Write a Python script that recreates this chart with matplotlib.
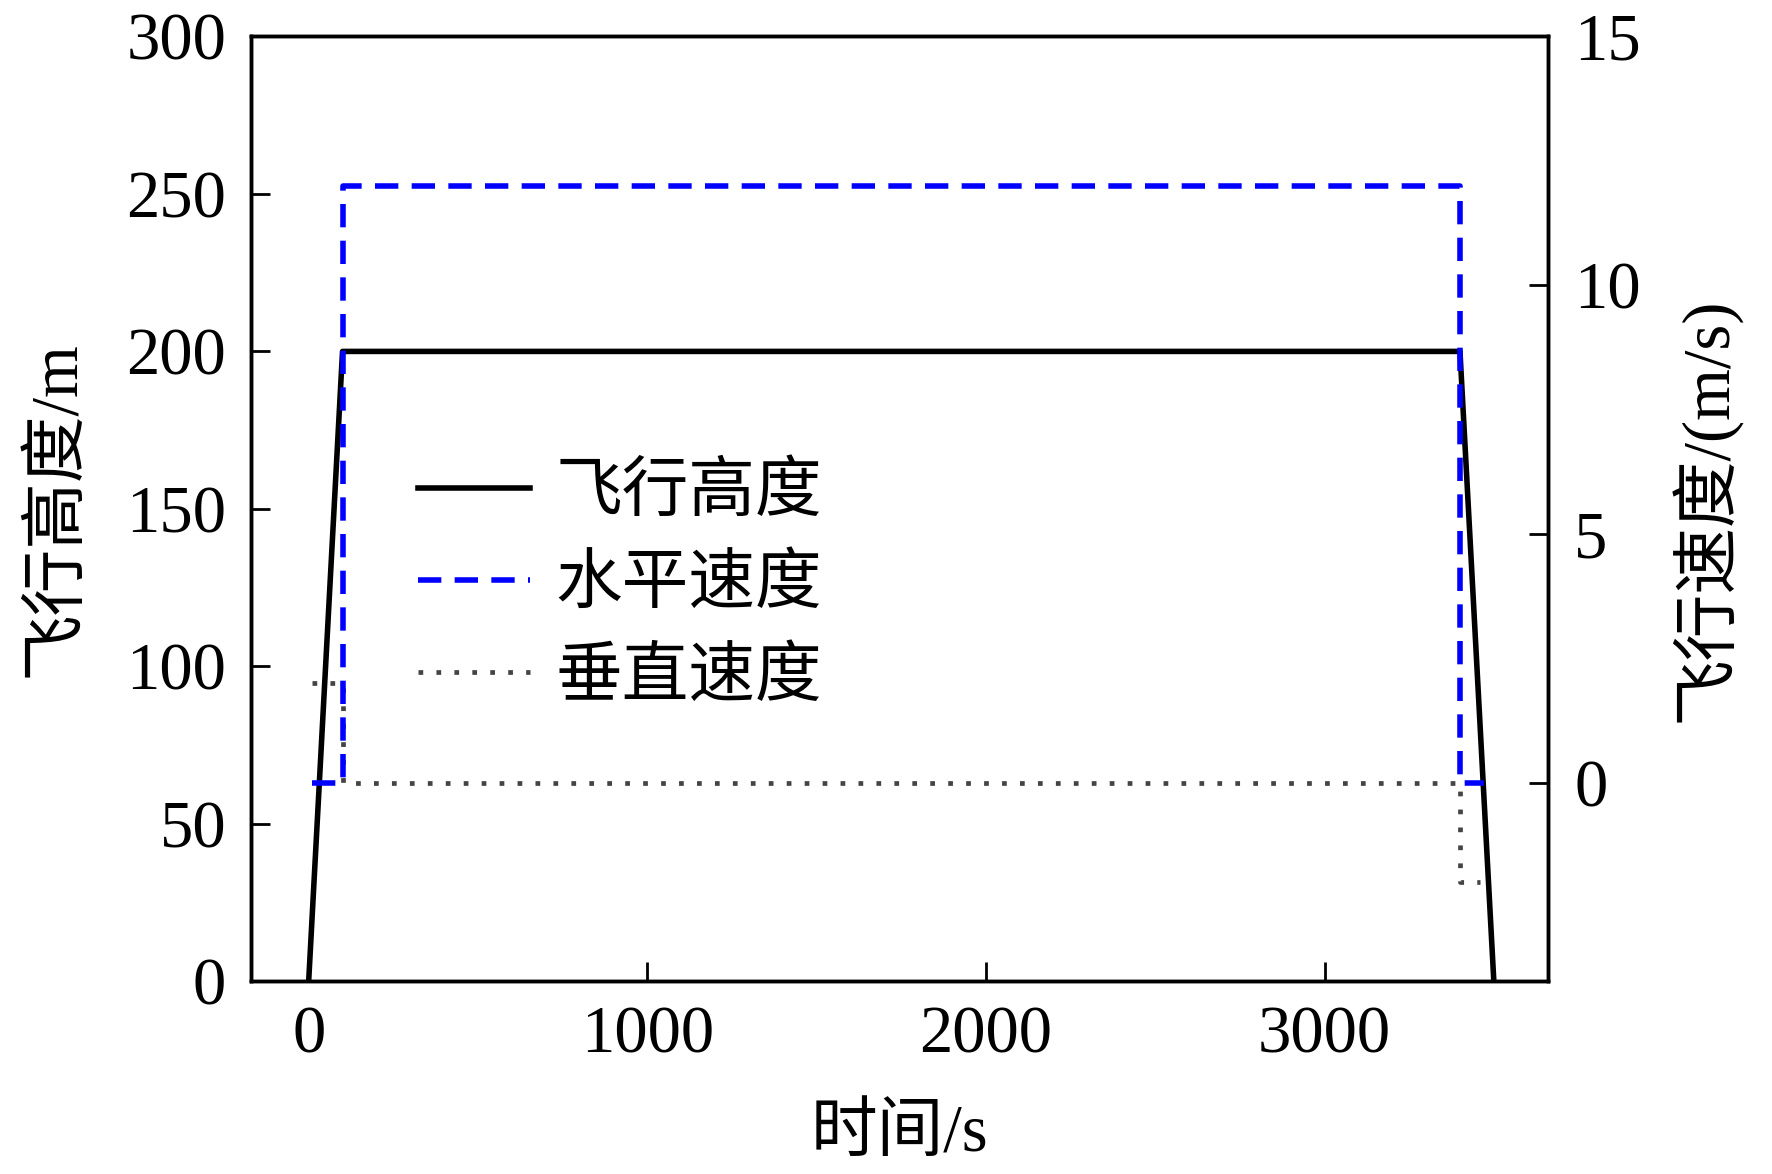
import matplotlib
matplotlib.use("Agg")
import matplotlib.pyplot as plt

# Data
t_alt = [0, 100, 3400, 3500]
altitude = [0, 200, 200, 0]

t_hs = [10, 100, 100, 3400, 3400, 3470]
h_speed = [0, 0, 12, 12, 0, 0]

t_vs = [10, 100, 100, 3400, 3400, 3460]
v_speed = [2, 2, 0, 0, -2, -2]

x_ticks = [0, 1000, 2000, 3000]
yl_ticks = [0, 50, 100, 150, 200, 250, 300]
yr_ticks = [0, 5, 10, 15]

labels = ["飞行高度", "水平速度", "垂直速度"]

plt.rcParams['font.family'] = ['Liberation Serif', 'Noto Sans CJK SC', 'DejaVu Sans']
plt.rcParams['axes.unicode_minus'] = False

fig = plt.figure(figsize=(17.72, 11.74), dpi=100)
ax = fig.add_axes([0.1417, 0.164, 0.8736 - 0.1417, 0.969 - 0.164])
ax2 = ax.twinx()

fs = 48
l1, = ax.plot(t_alt, altitude, color='black', lw=4.0, label=labels[0], zorder=3)
l2, = ax2.plot(t_hs, h_speed, color='#0000FF', lw=4.0, dashes=(4.2, 2.4), label=labels[1], zorder=3)
l3, = ax2.plot(t_vs, v_speed, color='#444444', lw=3.4, dashes=(1, 2.8), label=labels[2], zorder=2)

ax.set_xlim(-170, 3660)
ax.set_ylim(0, 300)
ax2.set_ylim(-4, 15)
ax.set_xticks(x_ticks)
ax.set_yticks(yl_ticks)
ax2.set_yticks(yr_ticks)

for a in (ax, ax2):
    for s in a.spines.values():
        s.set_linewidth(2.5)
ax.tick_params(axis='x', direction='in', length=14, width=2, labelsize=fs, pad=17)
ax.tick_params(axis='y', direction='in', length=14, width=2, labelsize=fs, pad=18, right=False)
ax2.tick_params(axis='y', direction='in', length=14, width=2, labelsize=fs, pad=19)

ax.set_xlabel("时间/s", fontsize=fs, labelpad=27)
ax.set_ylabel("飞行高度/m", fontsize=fs, labelpad=28)
ax2.set_ylabel("飞行速度/(m/s)", fontsize=fs, labelpad=20)

leg = ax.legend(handles=[l1, l2, l3], loc='center left', bbox_to_anchor=(0.129, 0.418),
                frameon=False, fontsize=48, handlelength=1.68, handletextpad=0.38,
                labelspacing=0.46, borderaxespad=0, borderpad=0)

fig.savefig("out.png", dpi=100)
